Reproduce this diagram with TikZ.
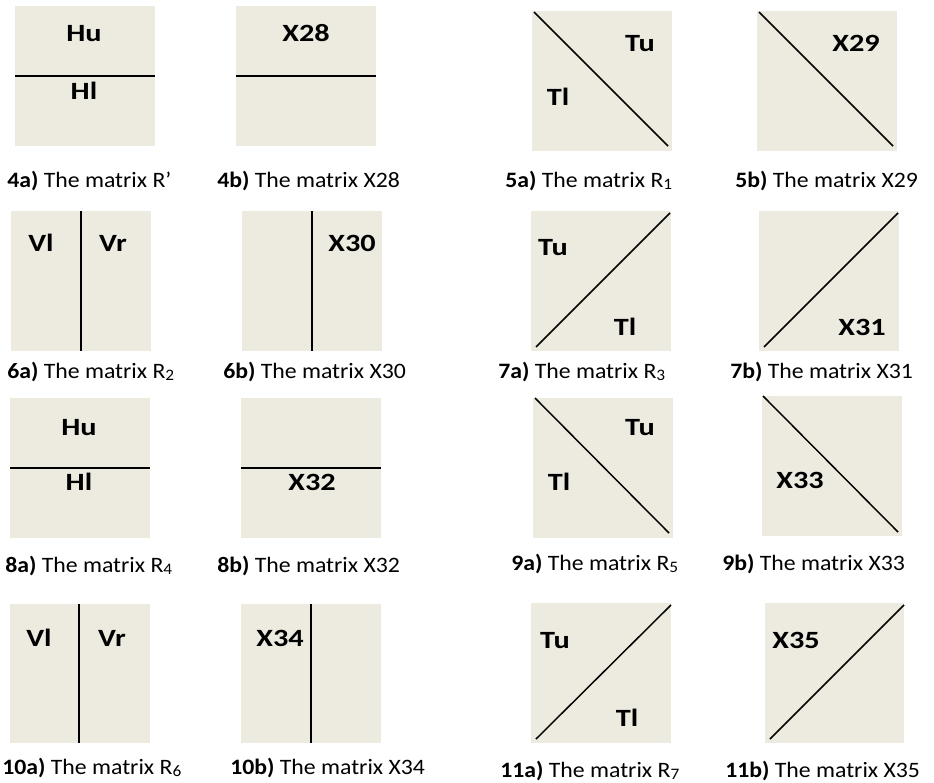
\documentclass[tikz,border=0pt]{standalone}
\usepackage{fontspec}
\setmainfont{Carlito}
\newfontfamily\capfont{Carlito}[FakeStretch=1.08]
\newfontfamily\lblfont{Carlito}[FakeStretch=1.22]
\definecolor{boxfill}{RGB}{237,234,224}
\tikzset{
  mbox/.style={fill=boxfill, draw=none},
  split/.style={draw=black, line width=1.1pt},
  lbl/.style={font=\lblfont\fontsize{18.6pt}{20pt}\selectfont\bfseries, inner sep=0pt, anchor=base},
  capt/.style={font=\capfont\fontsize{16.5pt}{19pt}\selectfont, inner sep=0pt, anchor=base west},
}
\newcommand{\sbs}[1]{\raisebox{-0.25ex}{\fontsize{12pt}{12pt}\selectfont #1}}
\begin{document}
\begin{tikzpicture}[x=0.75pt,y=-0.75pt]
\useasboundingbox (0,0) rectangle (934,782);
% ---------- row 1 ----------
\fill[mbox] (15,6) rectangle (155,146);
\draw[split] (15,76) -- (155,76);
\node[lbl] (hu1) at (84,41) {Hu};
\node[lbl] (hl1) at (84,99) {Hl};
\node[capt] (c4a) at (7,187) {\textbf{4a)} The matrix R’};

\fill[mbox] (236,6) rectangle (376,146);
\draw[split] (236,76) -- (376,76);
\node[lbl] (x28) at (306,41) {X28};
\node[capt] (c4b) at (217,187) {\textbf{4b)} The matrix X28};

\fill[mbox] (532,11) rectangle (672,151);
\draw[split] (534,12) -- (668,146);
\node[lbl] (tu1) at (640,51) {Tu};
\node[lbl] (tl1) at (558,105) {Tl};
\node[capt] (c5a) at (505,187) {\textbf{5a)} The matrix R\sbs{1}};

\fill[mbox] (757,11) rectangle (897,151);
\draw[split] (759,12) -- (893,146);
\node[lbl] (x29) at (856,51) {X29};
\node[capt] (c5b) at (735,187) {\textbf{5b)} The matrix X29};
% ---------- row 2 ----------
\fill[mbox] (11,211) rectangle (151,351);
\draw[split] (81,211) -- (81,351);
\node[lbl] (vl1) at (41,251) {Vl};
\node[lbl] (vr1) at (113,251) {Vr};
\node[capt] (c6a) at (7,378) {\textbf{6a)} The matrix R\sbs{2}};

\fill[mbox] (242,211) rectangle (382,351);
\draw[split] (312,211) -- (312,351);
\node[lbl] (x30) at (352,251) {X30};
\node[capt] (c6b) at (223,378) {\textbf{6b)} The matrix X30};

\fill[mbox] (531,211) rectangle (671,351);
\draw[split] (536,347) -- (670,213);
\node[lbl] (tu2) at (553,255) {Tu};
\node[lbl] (tl2) at (625,335) {Tl};
\node[capt] (c7a) at (498,378) {\textbf{7a)} The matrix R\sbs{3}};

\fill[mbox] (759,211) rectangle (899,351);
\draw[split] (764,347) -- (898,213);
\node[lbl] (x31) at (862,335) {X31};
\node[capt] (c7b) at (730,378) {\textbf{7b)} The matrix X31};
% ---------- row 3 ----------
\fill[mbox] (10,398) rectangle (150,538);
\draw[split] (10,468) -- (150,468);
\node[lbl] (hu2) at (79,435) {Hu};
\node[lbl] (hl2) at (79,490) {Hl};
\node[capt] (c8a) at (5,572) {\textbf{8a)} The matrix R\sbs{4}};

\fill[mbox] (241,398) rectangle (381,538);
\draw[split] (241,468) -- (381,468);
\node[lbl] (x32) at (312,490) {X32};
\node[capt] (c8b) at (217,572) {\textbf{8b)} The matrix X32};

\fill[mbox] (533,398) rectangle (673,538);
\draw[split] (535,398) -- (669,533);
\node[lbl] (tu3) at (640,435) {Tu};
\node[lbl] (tl3) at (559,490) {Tl};
\node[capt] (c9a) at (511,570) {\textbf{9a)} The matrix R\sbs{5}};

\fill[mbox] (762,396) rectangle (902,536);
\draw[split] (763,396) -- (898,532);
\node[lbl] (x33) at (800,488) {X33};
\node[capt] (c9b) at (722,570) {\textbf{9b)} The matrix X33};
% ---------- row 4 ----------
\fill[mbox] (10,604) rectangle (150,743);
\draw[split] (79,604) -- (79,743);
\node[lbl] (vl2) at (39,646) {Vl};
\node[lbl] (vr2) at (112,646) {Vr};
\node[capt] (c10a) at (2,774) {\textbf{10a)} The matrix R\sbs{6}};

\fill[mbox] (241,604) rectangle (381,743);
\draw[split] (311,604) -- (311,743);
\node[lbl] (x34) at (280,646) {X34};
\node[capt] (c10b) at (230,774) {\textbf{10b)} The matrix X34};

\fill[mbox] (531,603) rectangle (671,743);
\draw[split] (536,739) -- (671,605);
\node[lbl] (tu4) at (555,648) {Tu};
\node[lbl] (tl4) at (627,726) {Tl};
\node[capt] (c11a) at (500,777) {\textbf{11a)} The matrix R\sbs{7}};

\fill[mbox] (765,603) rectangle (904,743);
\draw[split] (770,739) -- (904,605);
\node[lbl] (x35) at (796,648) {X35};
\node[capt] (c11b) at (725,777) {\textbf{11b)} The matrix X35};
\end{tikzpicture}
\end{document}
